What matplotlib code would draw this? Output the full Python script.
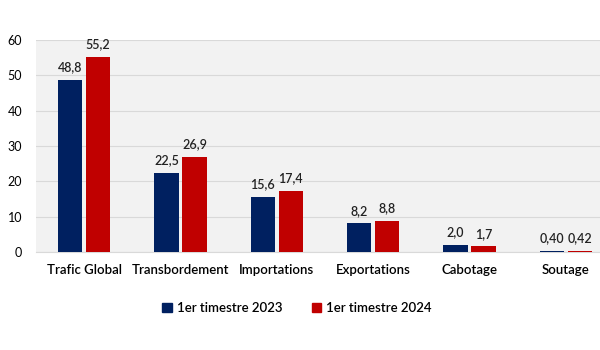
import numpy as np
import matplotlib.pyplot as plt
from matplotlib.patches import Patch

categories = ["Trafic Global", "Transbordement", "Importations", "Exportations", "Cabotage", "Soutage"]
t2023 = [48.8, 22.5, 15.6, 8.2, 2.0, 0.40]
t2024 = [55.2, 26.9, 17.4, 8.8, 1.7, 0.42]
labels_2023 = ["48,8", "22,5", "15,6", "8,2", "2,0", "0,40"]
labels_2024 = ["55,2", "26,9", "17,4", "8,8", "1,7", "0,42"]
series_names = ["1er timestre 2023", "1er timestre 2024"]

blue = "#002060"
red = "#C00000"

plt.rcParams['font.family'] = ['Lato', 'DejaVu Sans']

fig = plt.figure(figsize=(6, 3.5), dpi=100)
ax = fig.add_axes([36 / 600, 0.28, 578 / 600, 212 / 350])
ax.set_facecolor("#F2F2F2")

x = np.arange(len(categories))
w = 0.25
off = 0.145
b1 = ax.bar(x - off, t2023, w, color=blue, zorder=3)
b2 = ax.bar(x + off, t2024, w, color=red, zorder=3)

for rect, lab in zip(b1, labels_2023):
    ax.text(rect.get_x() + rect.get_width() / 2, rect.get_height() + 1.8, lab,
            ha="center", va="bottom", fontsize=9, fontweight="semibold", color="#222222")
for rect, lab in zip(b2, labels_2024):
    ax.text(rect.get_x() + rect.get_width() / 2, rect.get_height() + 1.8, lab,
            ha="center", va="bottom", fontsize=9, fontweight="semibold", color="#222222")

ax.set_ylim(0, 60)
ax.set_yticks(range(0, 61, 10))
ax.set_xlim(-0.5, len(categories) - 0.5)
ax.set_xticks(x)
ax.set_xticklabels(categories, fontsize=9.5, fontweight="semibold")
ax.tick_params(axis="x", length=0, pad=9)
ax.tick_params(axis="y", length=0, pad=10, labelsize=9)
ax.grid(axis="y", color="#D9D9D9", linewidth=0.8, zorder=0)
for s in ["top", "right", "left"]:
    ax.spines[s].set_visible(False)
ax.spines["bottom"].set_color("#D9D9D9")

handles = [Patch(color=blue), Patch(color=red)]
fig.legend(handles, series_names, loc="center", bbox_to_anchor=(0.495, 1 - 308 / 350),
           ncol=2, frameon=False, handlelength=0.7, handleheight=0.7,
           columnspacing=2.2, handletextpad=0.4, prop={"weight": "semibold", "size": 9.5})

fig.savefig("out.png", dpi=100)
